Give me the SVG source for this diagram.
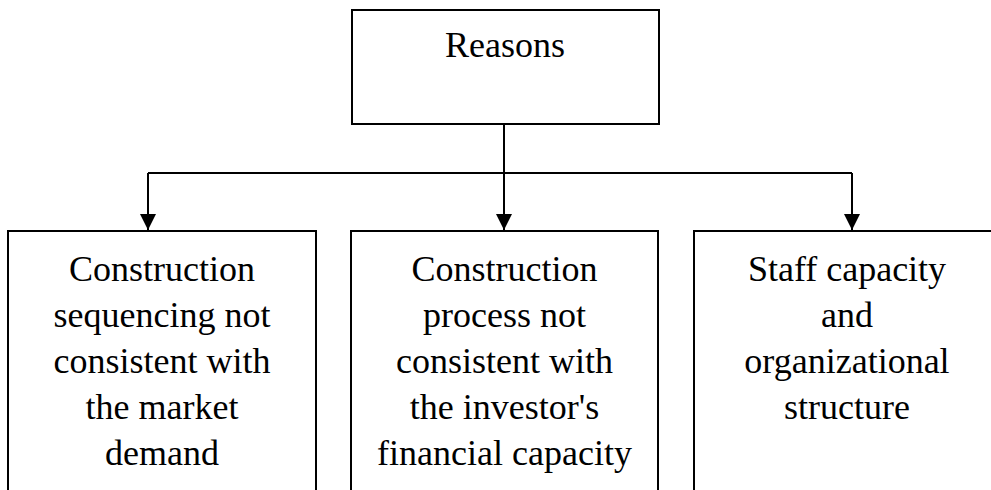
<svg xmlns="http://www.w3.org/2000/svg" width="991" height="490" viewBox="0 0 991 490">
<defs>
<style>
.box{fill:#fff;stroke:#000;stroke-width:2}
.t{font-family:"Liberation Serif","Times New Roman",serif;font-size:36px;fill:#000;text-anchor:middle}
.ln{fill:none;stroke:#000;stroke-width:2}
</style>
<marker id="ah" markerWidth="16" markerHeight="16" refX="16" refY="8" orient="auto" markerUnits="userSpaceOnUse">
<path d="M0,0 L16,8 L0,16 Z" fill="#000"/>
</marker>
</defs>
<rect width="991" height="490" fill="#fff"/>
<g id="connectors">
<path class="ln" d="M504,124 V173"/>
<path class="ln" d="M148,173 H852"/>
<path class="ln" d="M148,173 V230" marker-end="url(#ah)"/>
<path class="ln" d="M504,173 V230" marker-end="url(#ah)"/>
<path class="ln" d="M852,173 V230" marker-end="url(#ah)"/>
</g>
<g id="reasons">
<rect class="box" x="352" y="10" width="307" height="114"/>
<text class="t" x="505" y="57">Reasons</text>
</g>
<g id="sequencing">
<rect class="box" x="8" y="231" width="308" height="280"/>
<text class="t" x="162" y="281">Construction</text>
<text class="t" x="162" y="327">sequencing not</text>
<text class="t" x="162" y="373">consistent with</text>
<text class="t" x="162" y="419">the market</text>
<text class="t" x="162" y="465">demand</text>
</g>
<g id="process">
<rect class="box" x="351" y="231" width="307" height="280"/>
<text class="t" x="504.5" y="281">Construction</text>
<text class="t" x="504.5" y="327">process not</text>
<text class="t" x="504.5" y="373">consistent with</text>
<text class="t" x="504.5" y="419">the investor's</text>
<text class="t" x="504.5" y="465">financial capacity</text>
</g>
<g id="staff">
<rect class="box" x="694" y="231" width="310" height="280"/>
<text class="t" x="847" y="281">Staff capacity</text>
<text class="t" x="847" y="327">and</text>
<text class="t" x="847" y="373">organizational</text>
<text class="t" x="847" y="419">structure</text>
</g>
</svg>
